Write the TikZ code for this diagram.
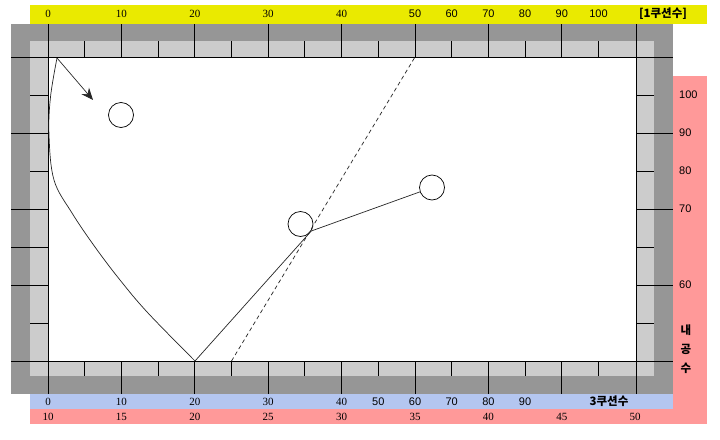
\documentclass[tikz,border=0pt]{standalone}
\usepackage{fontspec}
\setmainfont{Liberation Serif}
\setsansfont{Liberation Sans}
\newfontfamily\hangul{Noto Sans CJK KR}
\usetikzlibrary{arrows.meta}
\definecolor{cushionY}{RGB}{234,234,0}
\definecolor{cushionB}{RGB}{180,198,240}
\definecolor{cushionR}{RGB}{255,153,153}
\definecolor{railD}{RGB}{150,150,150}
\definecolor{railL}{RGB}{204,204,204}
\tikzset{
	tick/.style={line width=0.9pt},
	num/.style={inner sep=0pt, font=\fontsize{11}{13}\selectfont},
	snum/.style={inner sep=0pt, font=\sffamily\fontsize{11}{13}\selectfont},
	kor/.style={inner sep=0pt, font=\hangul\bfseries\fontsize{11.5}{13}\selectfont},
	ball/.style={draw, circle, minimum size=25pt, inner sep=0pt, line width=0.7pt},
	path/.style={line width=0.7pt, black!85}
}

\begin{document}
\begin{tikzpicture}[x=1pt, y=-1pt]
			\useasboundingbox (0,0) rectangle (720,439);
			
			\fill[cushionY] (30,5) rectangle (707,24);
			\fill[cushionR] (673,76) rectangle (707,424);
			\fill[railD] (11,24) rectangle (673,394);
			\fill[railL] (30,41) rectangle (654,376);
			\fill[white] (48,57) rectangle (636,361);
			\fill[cushionB] (30,394) rectangle (673,409);
			\fill[cushionR] (30,409) rectangle (707,424);
			
			\draw[tick] (11,57) -- (673,57);
			\draw[tick] (11,361) -- (673,361);
			\draw[tick] (48,24) -- (48,394);
			\draw[tick] (636,24) -- (636,394);
			
			\draw[tick] (121.4,24) -- (121.4,57);
			\draw[tick] (194.8,24) -- (194.8,57);
			\draw[tick] (268.2,24) -- (268.2,57);
			\draw[tick] (341.6,24) -- (341.6,57);
			\draw[tick] (415,24) -- (415,57);
			\draw[tick] (488.4,24) -- (488.4,57);
			\draw[tick] (561.8,24) -- (561.8,57);
			\draw[tick] (84.7,41) -- (84.7,57);
			\draw[tick] (158.1,41) -- (158.1,57);
			\draw[tick] (231.5,41) -- (231.5,57);
			\draw[tick] (304.9,41) -- (304.9,57);
			\draw[tick] (378.3,41) -- (378.3,57);
			\draw[tick] (451.7,41) -- (451.7,57);
			\draw[tick] (525.1,41) -- (525.1,57);
			\draw[tick] (598.5,41) -- (598.5,57);
			
			\draw[tick] (121.4,361) -- (121.4,394);
			\draw[tick] (194.8,361) -- (194.8,394);
			\draw[tick] (268.2,361) -- (268.2,394);
			\draw[tick] (341.6,361) -- (341.6,394);
			\draw[tick] (415,361) -- (415,394);
			\draw[tick] (488.4,361) -- (488.4,394);
			\draw[tick] (561.8,361) -- (561.8,394);
			\draw[tick] (84.7,361) -- (84.7,376);
			\draw[tick] (158.1,361) -- (158.1,376);
			\draw[tick] (231.5,361) -- (231.5,376);
			\draw[tick] (304.9,361) -- (304.9,376);
			\draw[tick] (378.3,361) -- (378.3,376);
			\draw[tick] (451.7,361) -- (451.7,376);
			\draw[tick] (525.1,361) -- (525.1,376);
			\draw[tick] (598.5,361) -- (598.5,376);
			
			\draw[tick] (11,133) -- (48,133);
			\draw[tick] (11,209) -- (48,209);
			\draw[tick] (11,247) -- (48,247);
			\draw[tick] (11,285) -- (48,285);
			\draw[tick] (30,95) -- (48,95);
			\draw[tick] (30,171) -- (48,171);
			\draw[tick] (30,323) -- (48,323);
			
			\draw[tick] (636,133) -- (673,133);
			\draw[tick] (636,209) -- (673,209);
			\draw[tick] (636,285) -- (673,285);
			\draw[tick] (636,95) -- (654,95);
			\draw[tick] (636,171) -- (654,171);
			\draw[tick] (636,247) -- (654,247);
			\draw[tick] (636,323) -- (654,323);
			
			\node[num] (t0) at (48,14) {0};
			\node[num] (t10) at (121.4,14) {10};
			\node[num] (t20) at (194.8,14) {20};
			\node[num] (t30) at (268.2,14) {30};
			\node[num] (t40) at (341.6,14) {40};
			\node[snum] (t50) at (415,14) {50};
			\node[snum] (t60) at (451.7,14) {60};
			\node[snum] (t70) at (488.4,14) {70};
			\node[snum] (t80) at (525.1,14) {80};
			\node[snum] (t90) at (561.8,14) {90};
			\node[snum] (t100) at (598.5,14) {100};
			\node[kor] (ttitle) at (663,14) {[1쿠션수]};
			
			\node[num] (b0) at (48,401.5) {0};
			\node[num] (b10) at (121.4,401.5) {10};
			\node[num] (b20) at (194.8,401.5) {20};
			\node[num] (b30) at (268.2,401.5) {30};
			\node[num] (b40) at (341.6,401.5) {40};
			\node[snum] (b50) at (378.3,401.5) {50};
			\node[snum] (b60) at (415,401.5) {60};
			\node[snum] (b70) at (451.7,401.5) {70};
			\node[snum] (b80) at (488.4,401.5) {80};
			\node[snum] (b90) at (525.1,401.5) {90};
			\node[kor] (btitle) at (609,401.5) {3쿠션수};
			
			\node[num] (r10) at (48,416.5) {10};
			\node[num] (r15) at (121.4,416.5) {15};
			\node[num] (r20) at (194.8,416.5) {20};
			\node[num] (r25) at (268.2,416.5) {25};
			\node[num] (r30) at (341.6,416.5) {30};
			\node[num] (r35) at (415,416.5) {35};
			\node[num] (r40) at (488.4,416.5) {40};
			\node[num] (r45) at (561.8,416.5) {45};
			\node[num] (r50) at (635.2,416.5) {50};
			
			\node[snum, anchor=west] (s100) at (679,95) {100};
			\node[snum, anchor=west] (s90) at (679,133) {90};
			\node[snum, anchor=west] (s80) at (679,171) {80};
			\node[snum, anchor=west] (s70) at (679,209) {70};
			\node[snum, anchor=west] (s60) at (679,285) {60};
			\node[kor] (k1) at (686,330) {내};
			\node[kor] (k2) at (686,349) {공};
			\node[kor] (k3) at (686,368) {수};
			
			\node[ball] (ball1) at (121,115) {};
			\node[ball] (ball2) at (300.5,224) {};
			\node[ball] (ball3) at (432,187.5) {};
			
			\coordinate (cue) at (57,58);
			\coordinate (aim) at (93,100);
			\coordinate (bank) at (195,361);
			\coordinate (d25) at (231.5,361);
			\coordinate (d50) at (415,57);
			
			\draw[path, -{Stealth[length=12pt, width=10pt, inset=4pt]}] (cue) -- (aim);
			\draw[path] plot[smooth, tension=0.6] coordinates {(cue) (50.5,97) (49,135) (54,180) (72,213) (95,247) (120,280) (148,313) (bank)};
			\draw[path] (bank) -- (ball2.-33) -- (ball3);
			\draw[path, dash pattern=on 4pt off 3pt] (d25) -- (d50);
\end{tikzpicture}
\end{document}
